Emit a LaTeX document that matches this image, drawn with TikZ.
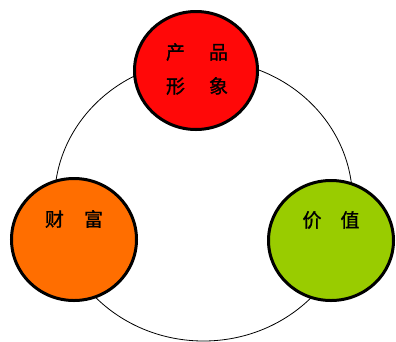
\documentclass[tikz,border=0pt]{standalone}
\usepackage{fontspec}
\newfontfamily\cjk[FakeBold=1.2]{Noto Sans CJK SC}
\usetikzlibrary{shapes.geometric}
\definecolor{cred}{RGB}{255,8,8}
\definecolor{corange}{RGB}{255,110,0}
\definecolor{cgreen}{RGB}{153,204,0}
\tikzset{
  ball/.style={ellipse, draw=black, line width=3pt, inner sep=0pt},
  lbl/.style={font=\cjk\fontsize{19}{21}\selectfont, text=black, inner sep=0pt}
}
\begin{document}
\begin{tikzpicture}[x=1pt,y=-1pt]
\useasboundingbox (0,0) rectangle (396,341);
\fill[white] (0,0) rectangle (396,341);
\draw[line width=0.8pt] (203.5,200.5) ellipse [x radius=149, y radius=140.5];
\node[ball, fill=cred, minimum width=123pt, minimum height=118pt] (top) at (196,70.5) {};
\node[ball, fill=corange, minimum width=125pt, minimum height=122pt] (left) at (74,239.5) {};
\node[ball, fill=cgreen, minimum width=125pt, minimum height=120pt] (right) at (331,240.5) {};
\node[lbl] (t1) at (197,52) {产\hspace{24pt}品};
\node[lbl] (t2) at (197,86) {形\hspace{24pt}象};
\node[lbl] (l1) at (74,219) {财\hspace{20pt}富};
\node[lbl] (r1) at (331,220) {价\hspace{19pt}值};
\end{tikzpicture}
\end{document}
